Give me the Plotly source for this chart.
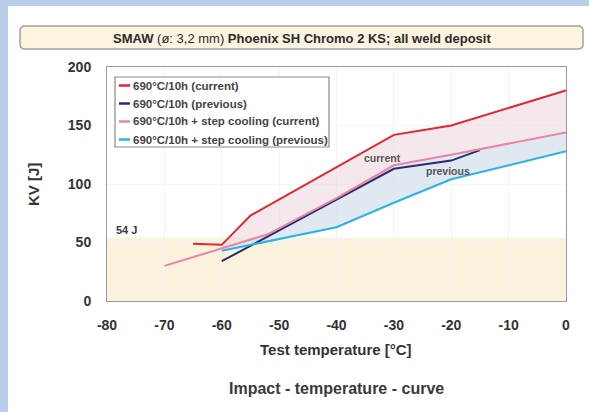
import numpy as np
import plotly.graph_objects as go

# ---- data ----
red_x = [-65, -60, -55, -30, -20, 0]
red_y = [49, 48, 73, 142, 150, 180]          # 690°C/10h (current)

navy_x = [-60, -40, -30, -20, -15]
navy_y = [34, 87, 113, 120, 129]             # 690°C/10h (previous)

pink_x = [-70, -52, -40, -30, -20, 0]
pink_y = [30, 57, 88, 116, 125, 144]         # 690°C/10h + step cooling (current)

cyan_x = [-60, -40, -30, -20, 0]
cyan_y = [43, 63, 84, 104, 128]              # 690°C/10h + step cooling (previous)

x_ticks = [-80, -70, -60, -50, -40, -30, -20, -10, 0]
y_ticks = [0, 50, 100, 150, 200]
limit_value = 54

names = ["690°C/10h (current)", "690°C/10h (previous)",
         "690°C/10h + step cooling (current)", "690°C/10h + step cooling (previous)"]
colors = ["#e3262e", "#2a2c6b", "#ea84a6", "#27b3e6"]

FONT = "Liberation Sans, Arial, sans-serif"
TXT = "#333333"

fig = go.Figure()

# ---- band fills derived from the series ----
start = -60


def clip_from(x, y, x0):
    x = np.asarray(x, float); y = np.asarray(y, float)
    keep = x > x0
    return np.concatenate([[x0], x[keep]]), np.concatenate([[np.interp(x0, x, y)], y[keep]])


rcx, rcy = clip_from(red_x, red_y, start)
pcx, pcy = clip_from(pink_x, pink_y, start)
ccx, ccy = clip_from(cyan_x, cyan_y, start)

fig.add_trace(go.Scatter(x=np.concatenate([rcx, pcx[::-1]]), y=np.concatenate([rcy, pcy[::-1]]),
                         fill="toself", fillcolor="rgba(236,216,224,0.6)", line=dict(width=0),
                         mode="lines", showlegend=False, hoverinfo="skip"))
fig.add_trace(go.Scatter(x=np.concatenate([pcx, ccx[::-1]]), y=np.concatenate([pcy, ccy[::-1]]),
                         fill="toself", fillcolor="rgba(214,226,238,0.75)", line=dict(width=0),
                         mode="lines", showlegend=False, hoverinfo="skip"))

# ---- lines ----
series = [(red_x, red_y), (navy_x, navy_y), (pink_x, pink_y), (cyan_x, cyan_y)]
for (xs, ys), nm, c in zip(series, names, colors):
    fig.add_trace(go.Scatter(x=xs, y=ys, mode="lines", name=nm, showlegend=False,
                             line=dict(color=c, width=2)))

# ---- layout helpers (pixel -> paper) ----
L, R, T, B = 107, 23, 67, 111
W, H = 589, 412
pw, ph = W - L - R, H - T - B


def px2x(p):
    return (p - L) / pw


def py2y(p):
    return (H - B - p) / ph


shapes = []
# white panel on blue page
shapes.append(dict(type="rect", xref="paper", yref="paper",
                   x0=px2x(8), x1=px2x(600), y0=py2y(420), y1=py2y(6),
                   fillcolor="white", line=dict(width=0), layer="below"))
# title box with rounded corners
x0, x1, y0, y1 = px2x(20), px2x(583), py2y(49), py2y(26)
rx_, ry_ = 5 / pw, 5 / ph
path = (f"M {x0+rx_},{y0} L {x1-rx_},{y0} Q {x1},{y0} {x1},{y0+ry_} "
        f"L {x1},{y1-ry_} Q {x1},{y1} {x1-rx_},{y1} L {x0+rx_},{y1} "
        f"Q {x0},{y1} {x0},{y1-ry_} L {x0},{y0+ry_} Q {x0},{y0} {x0+rx_},{y0} Z")
shapes.append(dict(type="path", xref="paper", yref="paper", path=path,
                   fillcolor="#fcf4e0", line=dict(color="#a3a39c", width=1.5), layer="below"))
# 54 J band
shapes.append(dict(type="rect", xref="x", yref="y", x0=x_ticks[0], x1=x_ticks[-1], y0=0, y1=limit_value,
                   fillcolor="#faf2dc", line=dict(width=0), layer="below"))

annotations = [
    dict(xref="paper", yref="paper", x=px2x(301.5), y=py2y(38), showarrow=False,
         text="<b>SMAW</b> (ø: 3,2 mm) <b>Phoenix SH Chromo 2 KS; all weld deposit</b>",
         font=dict(size=13, color="#2b2b2b"), xanchor="center", yanchor="middle"),
    dict(xref="x", yref="y", x=x_ticks[0], y=limit_value, xanchor="left", yanchor="bottom",
         xshift=7, yshift=0, showarrow=False, text="<b>54 J</b>",
         font=dict(size=11, color="#3a3a3a")),
    dict(xref="x", yref="y", x=-32, y=122, showarrow=False, text="<b>current</b>",
         font=dict(size=10.5, color="#555555")),
    dict(xref="x", yref="y", x=-20.5, y=111.5, showarrow=False, text="<b>previous</b>",
         font=dict(size=10.5, color="#555555")),
    dict(xref="paper", yref="paper", x=px2x(336), y=py2y(349), showarrow=False,
         text="<b>Test temperature [°C]</b>", font=dict(size=15, color=TXT),
         xanchor="center", yanchor="middle"),
    dict(xref="paper", yref="paper", x=px2x(33), y=py2y(185), showarrow=False, textangle=-90,
         text="<b>KV [J]</b>", font=dict(size=15, color=TXT),
         xanchor="center", yanchor="middle"),
    dict(xref="paper", yref="paper", x=px2x(336), y=py2y(388), showarrow=False,
         text="<b>Impact - temperature - curve</b>", font=dict(size=16, color="#3a3a3a"),
         xanchor="center", yanchor="middle"),
]

# ---- manual legend (compact, like the reference) ----
lg_x0, lg_x1, lg_y0, lg_y1 = 115, 329, 77, 147
shapes.append(dict(type="rect", xref="paper", yref="paper",
                   x0=px2x(lg_x0), x1=px2x(lg_x1), y0=py2y(lg_y1), y1=py2y(lg_y0),
                   fillcolor="white", line=dict(color="#8a8a8a", width=1.2), layer="above"))
for i, (nm, c) in enumerate(zip(names, colors)):
    yy = 85.5 + 18 * i
    shapes.append(dict(type="line", xref="paper", yref="paper",
                       x0=px2x(119), x1=px2x(130), y0=py2y(yy), y1=py2y(yy),
                       line=dict(color=c, width=2.5), layer="above"))
    annotations.append(dict(xref="paper", yref="paper", x=px2x(131), y=py2y(yy),
                            xanchor="left", yanchor="middle", showarrow=False,
                            text=f"<b>{nm}</b>", font=dict(size=11.5, color="#444444")))

fig.update_layout(
    width=W, height=H,
    margin=dict(l=L, r=R, t=T, b=B, pad=0),
    paper_bgcolor="#b9cfe9",
    plot_bgcolor="white",
    font=dict(family=FONT, color=TXT),
    shapes=shapes,
    annotations=annotations,
    showlegend=False,
)

fig.update_xaxes(range=[x_ticks[0], x_ticks[-1]], tickvals=x_ticks,
                 ticktext=[f"<b>{v}</b>" for v in x_ticks],
                 tickfont=dict(size=14, color=TXT),
                 showline=True, mirror=True, linecolor="#9a9a9a", linewidth=1,
                 showgrid=True, gridcolor="#f3f3f3", zeroline=False, ticks="", ticklabelstandoff=11)
fig.update_yaxes(range=[y_ticks[0], y_ticks[-1]], tickvals=y_ticks,
                 ticktext=[f"<b>{v}</b>" for v in y_ticks],
                 tickfont=dict(size=14, color=TXT),
                 showline=True, mirror=True, linecolor="#9a9a9a", linewidth=1,
                 showgrid=True, gridcolor="#f5f5f5", zeroline=False, ticks="", ticklabelstandoff=12)

fig.write_html("out.html", config={"displayModeBar": False},
               post_script="document.body.style.margin='0';document.body.style.background='#b9cfe9';")
